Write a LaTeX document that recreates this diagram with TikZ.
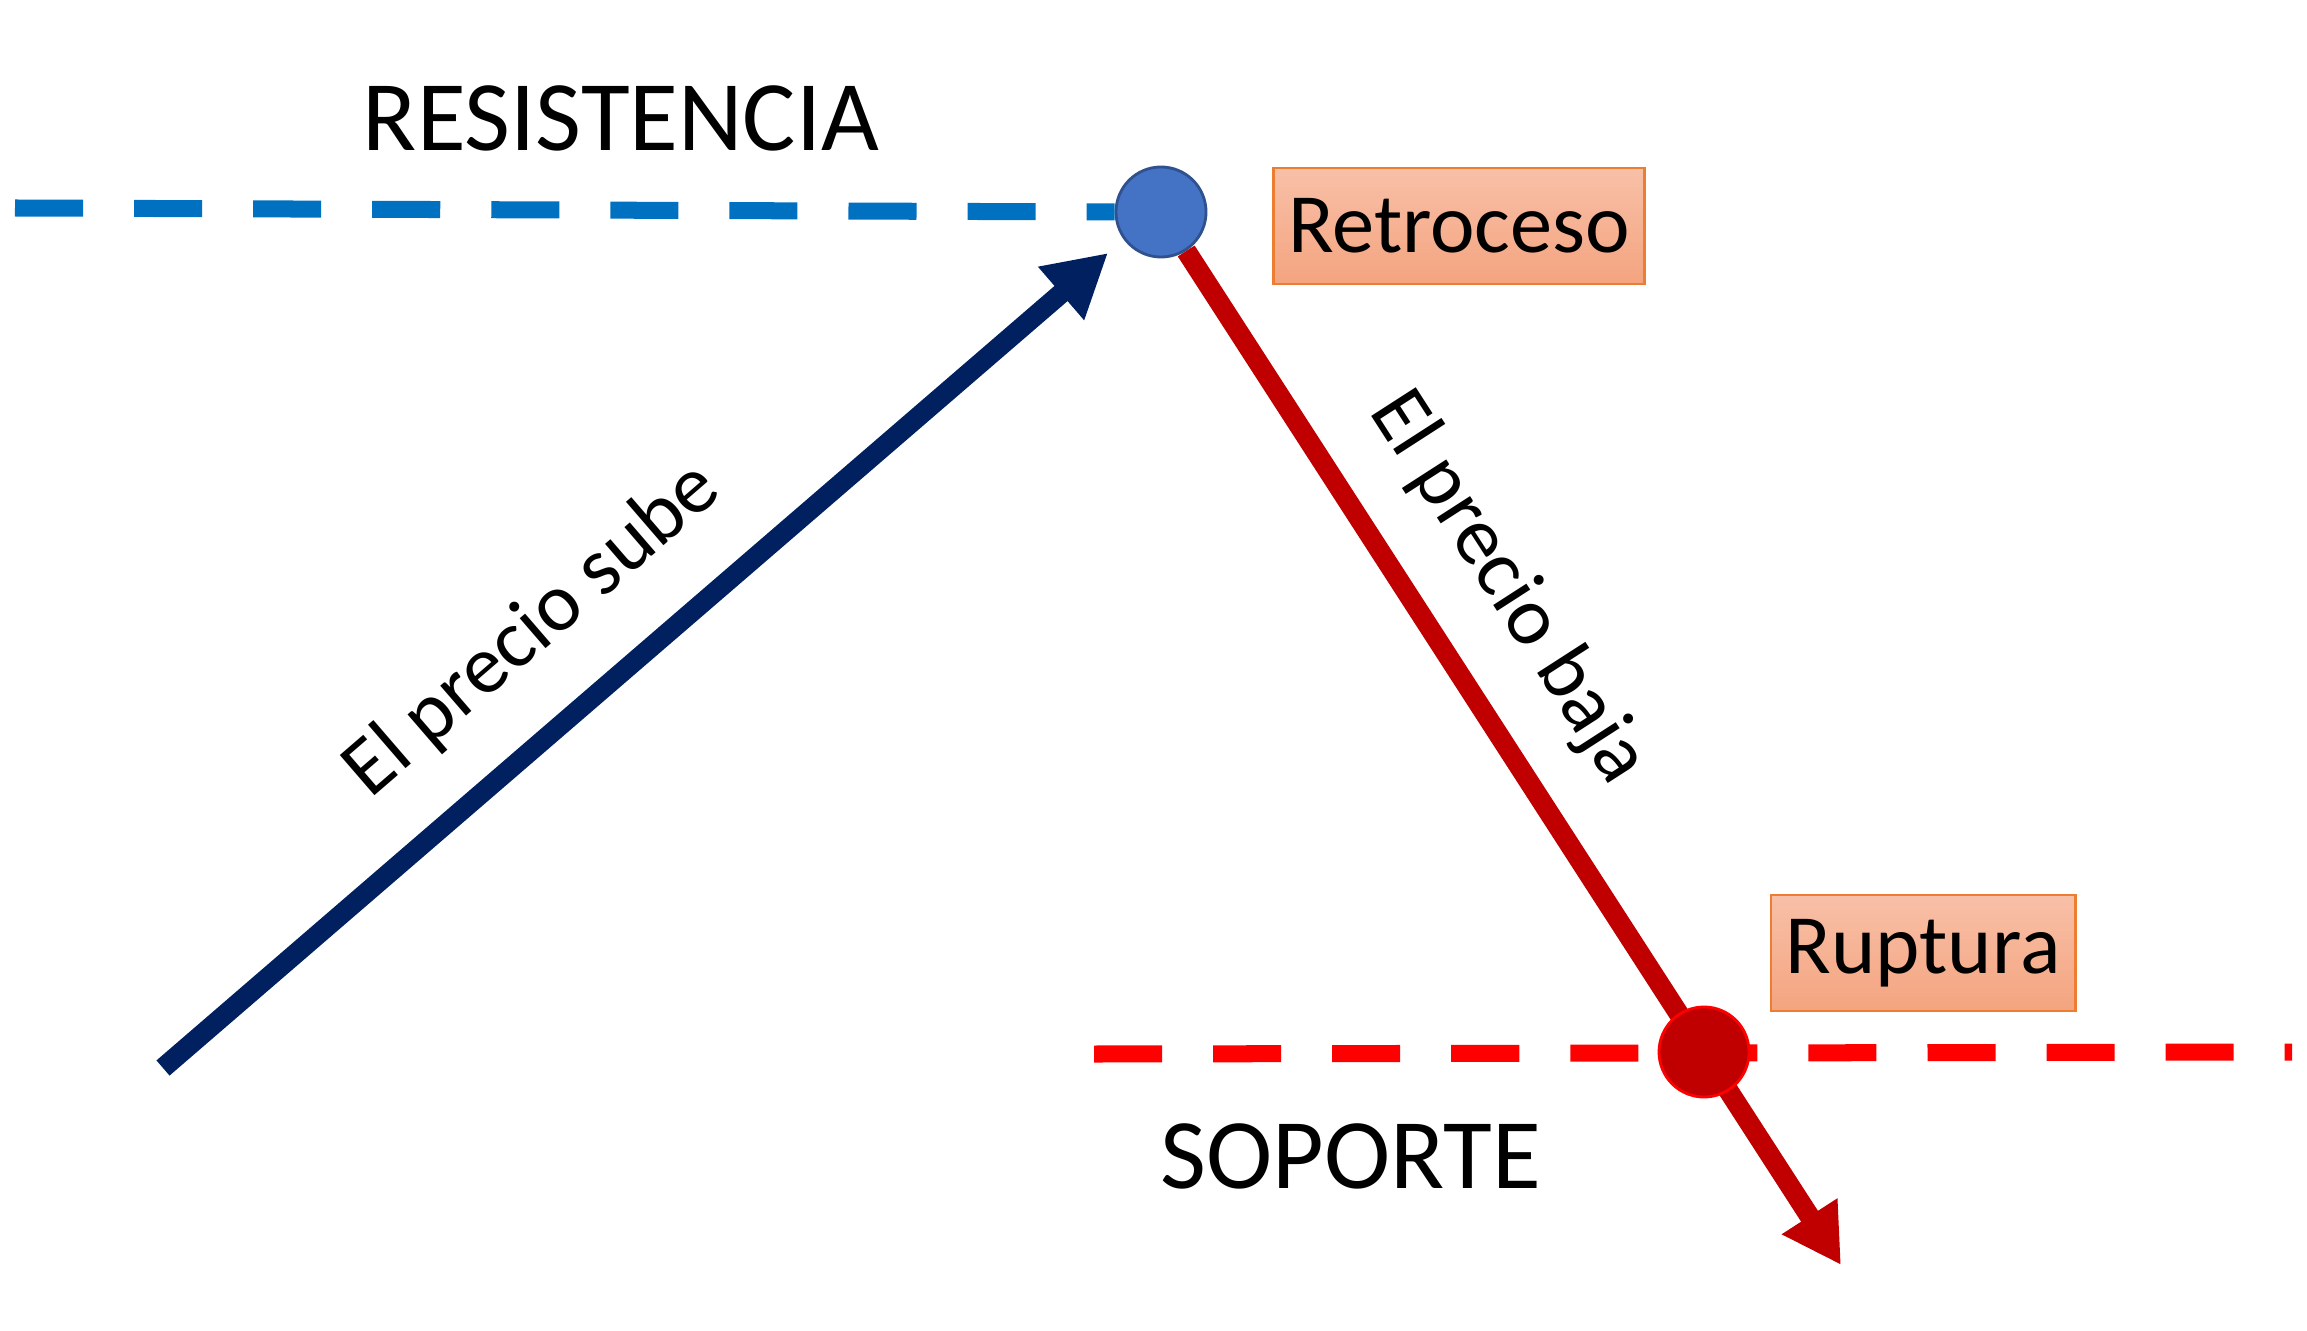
\documentclass[tikz,border=0pt]{standalone}
\usepackage{fontspec}
\setmainfont{Carlito}
\usepackage{xcolor}
\usetikzlibrary{%
	arrows.meta,%
	calc%
}
\definecolor{resblue}{HTML}{0070C0}
\definecolor{dotblue}{HTML}{4472C4}
\definecolor{dotedge}{HTML}{2F528F}
\definecolor{upnavy}{HTML}{002060}
\definecolor{downred}{HTML}{C00000}
\definecolor{suppred}{HTML}{FF0000}
\definecolor{tagtop}{HTML}{F8C0A8}
\definecolor{tagbot}{HTML}{F4A47F}
\definecolor{tagedge}{HTML}{ED7D31}

\begin{document}
\begin{tikzpicture}
		[x=0.01cm,y=-0.01cm,
		level/.style={line width=0.17cm,dash pattern=on 0.68cm off 0.51cm},
		trend/.style={line width=0.2cm},
		dot/.style={circle,minimum size=0.9cm,inner sep=0pt,line width=0.8pt},
		tag/.style={draw=tagedge,line width=0.8pt,top color=tagtop,bottom color=tagbot,minimum height=1.16cm,inner sep=0pt,font=\fontsize{24}{29}\selectfont},
		big/.style={font=\fontsize{28.4}{34}\selectfont},
		lbl/.style={font=\fontsize{23.5}{28}\selectfont}
		]
		\useasboundingbox (0,0) rectangle (2307,1331);
		
		% points
		\coordinate (resL) at (15,208);
		\coordinate (supL) at (1094,1054);
		\coordinate (supR) at (2292,1052);
		\coordinate (rise) at (163,1068);
		\coordinate (peak) at (1108,253);
		\coordinate (fin) at (1841,1265);
		\node[dot,draw=dotedge,fill=dotblue] (retro) at (1161,212) {};
		
		% levels
		\draw[level,resblue] (resL) -- (retro.west);
		\draw[level,suppred] (supL) -- (supR);
		
		% price moves
		\draw[trend,upnavy,-{Triangle[length=0.62cm,width=0.66cm]}] (rise) -- (peak);
		\draw[trend,downred,-{Triangle[length=0.58cm,width=0.62cm]}] (retro) -- (fin);
		\node[dot,draw=suppred,fill=downred] (brk) at (1704,1052) {};
		
		% texts
		\node[big] (res) at (621,118) {RESISTENCIA};
		\node[big] (sop) at (1351,1156) {SOPORTE};
		\node[tag,minimum width=3.71cm] (t1) at (1459,226) {Retroceso};
		\node[tag,minimum width=3.04cm] (t2) at (1923,953) {Ruptura};
		\node[lbl,rotate=40.8] (up) at (533,630) {El precio sube};
		\node[lbl,rotate=-57.2] (down) at (1508,588) {El precio baja};
	\end{tikzpicture}
\end{document}
